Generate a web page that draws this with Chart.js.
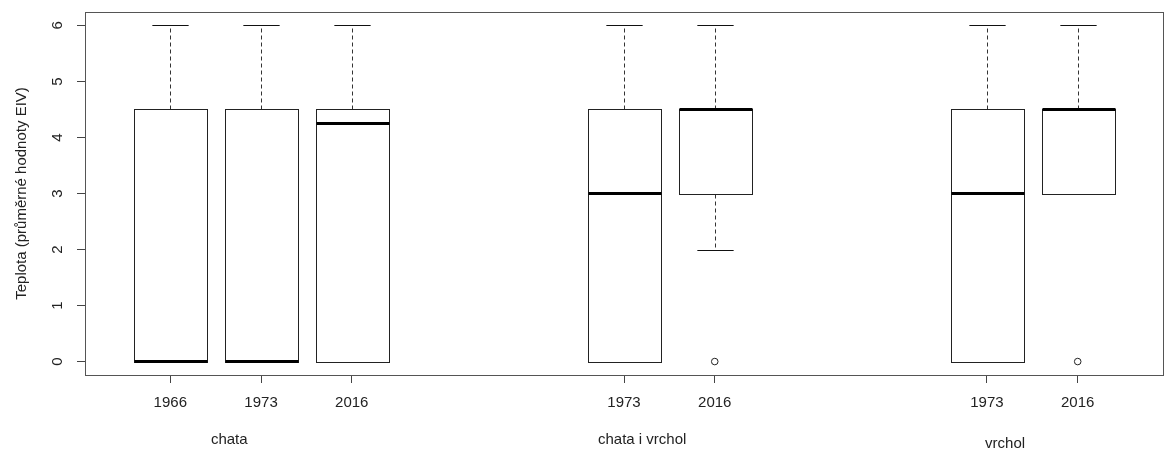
<!DOCTYPE html>
<html lang="cs">
<head>
<meta charset="utf-8">
<title>Teplota - boxplot</title>
<script src="https://cdn.jsdelivr.net/npm/chart.js@4/dist/chart.umd.min.js"></script>
<style>
    html, body { margin: 0; padding: 0; background: #ffffff; }
    #wrap { width: 1168px; height: 452px; }
</style>
</head>
<body>
<div id="wrap"><canvas id="graf"></canvas></div>
<script>
/* ==================
    DATA
================== */

const roky = ["1966", "1973", "2016", "1973", "2016", "1973", "2016"];
const pozice = [1, 2, 3, 6, 7, 10, 11];
const skupiny = ["chata", "chata i vrchol", "vrchol"];
const skupinyStred = [1.65, 6.2, 10.2];

const vousDolni = [0, 0, 0, 0, 2, 0, 3];
const kvartil1 = [0, 0, 0, 0, 3, 0, 3];
const medianHodnoty = [0, 0, 4.25, 3, 4.5, 3, 4.5];
const kvartil3 = [4.5, 4.5, 4.5, 4.5, 4.5, 4.5, 4.5];
const vousHorni = [6, 6, 6, 6, 6, 6, 6];
const odlehle = [[], [], [], [], [0], [], [0]];

const yTicky = [0, 1, 2, 3, 4, 5, 6];

const PISMO = "'Liberation Sans', Arial, sans-serif";

/* ==================
    BOXPLOT PLUGIN
================== */

const boxplotPlugin = {
    id: "boxplot",
    beforeDatasetsDraw(chart) {
        const { ctx, scales: { x, y }, chartArea } = chart;
        const sirka = x.getPixelForValue(0.8) - x.getPixelForValue(0);
        const cap = sirka / 4;

        ctx.save();
        pozice.forEach((p, i) => {
            const cx = Math.round(x.getPixelForValue(p)) + 0.5;
            const left = Math.round(cx - sirka / 2) + 0.5;
            const right = Math.round(cx + sirka / 2) + 0.5;
            const yQ1 = Math.round(y.getPixelForValue(kvartil1[i])) + 0.5;
            const yQ3 = Math.round(y.getPixelForValue(kvartil3[i])) + 0.5;
            const yLo = Math.round(y.getPixelForValue(vousDolni[i])) + 0.5;
            const yHi = Math.round(y.getPixelForValue(vousHorni[i])) + 0.5;
            const yMed = y.getPixelForValue(medianHodnoty[i]);

            // vousy
            ctx.strokeStyle = "#333";
            ctx.lineWidth = 1;
            ctx.setLineDash([4, 3]);
            ctx.beginPath();
            if (yHi < yQ3) {
                ctx.moveTo(cx, yQ3);
                ctx.lineTo(cx, yHi);
            }
            if (yLo > yQ1) {
                ctx.moveTo(cx, yQ1);
                ctx.lineTo(cx, yLo);
            }
            ctx.stroke();
            ctx.setLineDash([]);

            // konce vousu
            ctx.strokeStyle = "#111";
            ctx.beginPath();
            ctx.moveTo(cx - cap, yHi);
            ctx.lineTo(cx + cap, yHi);
            if (yLo > yQ1) {
                ctx.moveTo(cx - cap, yLo);
                ctx.lineTo(cx + cap, yLo);
            }
            ctx.stroke();

            // krabice
            ctx.fillStyle = "#ffffff";
            ctx.fillRect(left, yQ3, right - left, yQ1 - yQ3);
            ctx.strokeStyle = "#222";
            ctx.strokeRect(left, yQ3, right - left, yQ1 - yQ3);

            // median
            ctx.strokeStyle = "#000";
            ctx.lineWidth = 3;
            ctx.beginPath();
            ctx.moveTo(left, yMed);
            ctx.lineTo(right, yMed);
            ctx.stroke();
        });

        // ramecek
        ctx.strokeStyle = "#555";
        ctx.lineWidth = 1;
        ctx.strokeRect(
            Math.round(chartArea.left) + 0.5,
            Math.round(chartArea.top) + 0.5,
            Math.round(chartArea.right - chartArea.left),
            Math.round(chartArea.bottom - chartArea.top)
        );
        ctx.restore();
    },
    afterDraw(chart) {
        const { ctx, scales: { x, y } } = chart;
        ctx.save();
        ctx.fillStyle = "#222";

        // popisky osy y (svisle jako v R)
        ctx.font = "15px " + PISMO;
        ctx.textAlign = "center";
        ctx.textBaseline = "middle";
        y.ticks.forEach((t) => {
            const py = y.getPixelForValue(t.value);
            ctx.save();
            ctx.translate(58, py);
            ctx.rotate(-Math.PI / 2);
            ctx.fillText(String(t.value), 0, 0);
            ctx.restore();
        });

        // nazvy skupin
        ctx.font = "15px " + PISMO;
        const posunY = [440, 440, 444];
        skupiny.forEach((nazev, i) => {
            ctx.fillText(nazev, x.getPixelForValue(skupinyStred[i]), posunY[i]);
        });
        ctx.restore();
    },
};

/* ==================
    GRAF
================== */

function vytvorGraf() {
    const canvas = document.getElementById("graf");
    const bodyOdlehle = [];
    odlehle.forEach((hodnoty, i) => {
        hodnoty.forEach((v) => bodyOdlehle.push({ x: pozice[i], y: v }));
    });

    new Chart(canvas.getContext("2d"), {
        type: "scatter",
        data: {
            datasets: [{
                label: "odlehlé hodnoty",
                data: bodyOdlehle,
                pointStyle: "circle",
                pointRadius: 3.3,
                pointBackgroundColor: "#ffffff",
                pointBorderColor: "#222",
                pointBorderWidth: 1,
            }],
        },
        options: {
            responsive: true,
            maintainAspectRatio: false,
            animation: false,
            events: [],
            layout: {
                padding: { top: 12, right: 3, left: 0, bottom: 0 },
            },
            plugins: {
                legend: { display: false },
                tooltip: { enabled: false },
            },
            scales: {
                x: {
                    type: "linear",
                    min: 0.06,
                    max: 11.94,
                    afterBuildTicks(scale) {
                        scale.ticks = pozice.map((p) => ({ value: p }));
                    },
                    afterFit(scale) {
                        scale.height = 77;
                    },
                    border: { display: false },
                    grid: {
                        drawOnChartArea: false,
                        drawTicks: true,
                        tickLength: 8,
                        color: "#444",
                    },
                    ticks: {
                        padding: 11,
                        maxRotation: 0,
                        autoSkip: false,
                        color: "#222",
                        font: { size: 15, family: PISMO },
                        callback: (value) => {
                            const idx = pozice.indexOf(value);
                            return idx >= 0 ? roky[idx] : "";
                        },
                    },
                },
                y: {
                    type: "linear",
                    min: -0.24,
                    max: 6.24,
                    afterBuildTicks(scale) {
                        scale.ticks = yTicky.map((v) => ({ value: v }));
                    },
                    afterFit(scale) {
                        scale.width = 85;
                    },
                    border: { display: false },
                    grid: {
                        drawOnChartArea: false,
                        drawTicks: true,
                        tickLength: 8,
                        color: "#444",
                    },
                    ticks: { display: false },
                    title: {
                        display: true,
                        text: "Teplota (průměrné hodnoty EIV)",
                        color: "#222",
                        font: { size: 15, family: PISMO },
                        padding: { top: 13, bottom: 0 },
                    },
                },
            },
        },
        plugins: [boxplotPlugin],
    });
}

if (document.readyState === "loading") {
    document.addEventListener("DOMContentLoaded", vytvorGraf);
} else {
    vytvorGraf();
}
</script>
</body>
</html>
